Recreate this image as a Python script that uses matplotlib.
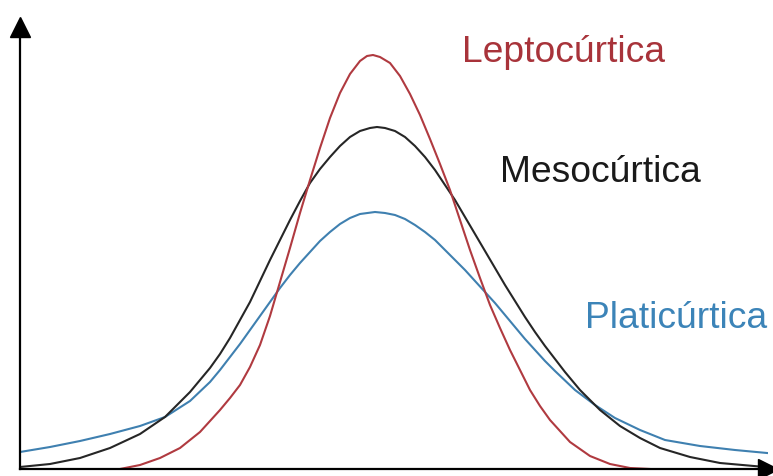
import matplotlib
matplotlib.use("Agg")
import matplotlib.pyplot as plt

# curves (x in arbitrary units, y = height)
lepto_x = [-2.55, -2.35, -2.15, -1.95, -1.75, -1.55, -1.45, -1.35, -1.25, -1.15,
           -1.05, -0.95, -0.85, -0.75, -0.65, -0.55, -0.45, -0.35, -0.25, -0.15,
           -0.08, -0.02, 0.05, 0.15, 0.25, 0.35, 0.45, 0.55, 0.65, 0.75,
           0.85, 0.95, 1.05, 1.15, 1.25, 1.35, 1.45, 1.55, 1.65, 1.75,
           1.95, 2.15, 2.35, 2.55, 2.75]
lepto_y = [0.0, 0.04, 0.11, 0.21, 0.37, 0.59, 0.71, 0.84, 1.02, 1.24,
           1.53, 1.87, 2.21, 2.56, 2.89, 3.21, 3.51, 3.76, 3.95, 4.08,
           4.13, 4.14, 4.12, 4.06, 3.93, 3.75, 3.54, 3.30, 3.05, 2.79,
           2.49, 2.19, 1.91, 1.64, 1.41, 1.19, 0.99, 0.79, 0.63, 0.49,
           0.27, 0.13, 0.05, 0.01, 0.0]

meso_x = [-3.55, -3.25, -2.95, -2.65, -2.35, -2.10, -1.85, -1.75, -1.65, -1.55,
          -1.45, -1.35, -1.25, -1.15, -1.05, -0.95, -0.85, -0.75, -0.65, -0.55,
          -0.45, -0.35, -0.25, -0.15, -0.05, 0.02, 0.10, 0.20, 0.30, 0.40,
          0.50, 0.60, 0.70, 0.80, 0.90, 1.00, 1.10, 1.20, 1.30, 1.40,
          1.50, 1.60, 1.70, 1.80, 1.90, 2.05, 2.25, 2.45, 2.65, 2.85,
          3.15, 3.45, 3.90]
meso_y = [0.02, 0.05, 0.11, 0.21, 0.35, 0.52, 0.77, 0.89, 1.01, 1.15,
          1.31, 1.49, 1.67, 1.88, 2.09, 2.29, 2.49, 2.68, 2.86, 3.00,
          3.12, 3.23, 3.32, 3.38, 3.41, 3.42, 3.41, 3.38, 3.32, 3.23,
          3.12, 2.99, 2.84, 2.69, 2.52, 2.35, 2.18, 2.01, 1.84, 1.68,
          1.52, 1.37, 1.23, 1.10, 0.97, 0.79, 0.59, 0.43, 0.31, 0.21,
          0.12, 0.06, 0.02]

plati_x = [-3.55, -3.25, -2.95, -2.65, -2.35, -2.10, -1.85, -1.65, -1.55, -1.45,
           -1.35, -1.25, -1.15, -1.05, -0.95, -0.85, -0.75, -0.65, -0.55, -0.45,
           -0.35, -0.25, -0.15, 0.0, 0.10, 0.20, 0.30, 0.40, 0.50, 0.60,
           0.70, 0.80, 0.90, 1.00, 1.10, 1.20, 1.30, 1.40, 1.50, 1.60,
           1.70, 1.80, 2.00, 2.20, 2.40, 2.65, 2.90, 3.25, 3.60, 3.92]
plati_y = [0.17, 0.22, 0.28, 0.35, 0.43, 0.52, 0.68, 0.87, 0.99, 1.12,
           1.25, 1.39, 1.53, 1.67, 1.81, 1.94, 2.06, 2.17, 2.28, 2.37,
           2.45, 2.51, 2.55, 2.57, 2.56, 2.54, 2.50, 2.44, 2.37, 2.29,
           2.19, 2.09, 1.99, 1.88, 1.77, 1.66, 1.54, 1.42, 1.30, 1.19,
           1.08, 0.98, 0.79, 0.64, 0.51, 0.39, 0.29, 0.23, 0.19, 0.16]

red = '#b03a40'
black = '#262626'
blue = '#3f80b0'

plt.rcParams['font.family'] = ['Liberation Sans', 'DejaVu Sans']

fig = plt.figure(figsize=(7.73, 4.76), dpi=100)
ax = fig.add_axes([20/773, 7/476, 748/773, 442/476])

ax.plot(plati_x, plati_y, color=blue, lw=1.5, solid_joinstyle='round')
ax.plot(meso_x, meso_y, color=black, lw=1.5, solid_joinstyle='round')
ax.plot(lepto_x, lepto_y, color=red, lw=1.5, solid_joinstyle='round')

ax.set_xlim(-3.55, 3.93)
ax.set_ylim(0, 4.42)
ax.set_xticks([])
ax.set_yticks([])
for s in ['top', 'right']:
    ax.spines[s].set_visible(False)
for s in ['left', 'bottom']:
    ax.spines[s].set_linewidth(1.6)
    ax.spines[s].set_color('black')

# arrow heads on the axes
ax.plot(0, 1, '^', color='black', markersize=14, transform=ax.transAxes, clip_on=False)
ax.plot(1, 0, '>', color='black', markersize=14, transform=ax.transAxes, clip_on=False)

fig.text(462/773, 1 - 62/476, 'Leptocúrtica', color='#a8333a', fontsize=26.8, va='baseline')
fig.text(500/773, 1 - 182/476, 'Mesocúrtica', color='#1a1a1a', fontsize=26.8, va='baseline')
fig.text(585/773, 1 - 328/476, 'Platicúrtica', color='#3c84b8', fontsize=26.8, va='baseline')

fig.savefig('out.png', dpi=100)
